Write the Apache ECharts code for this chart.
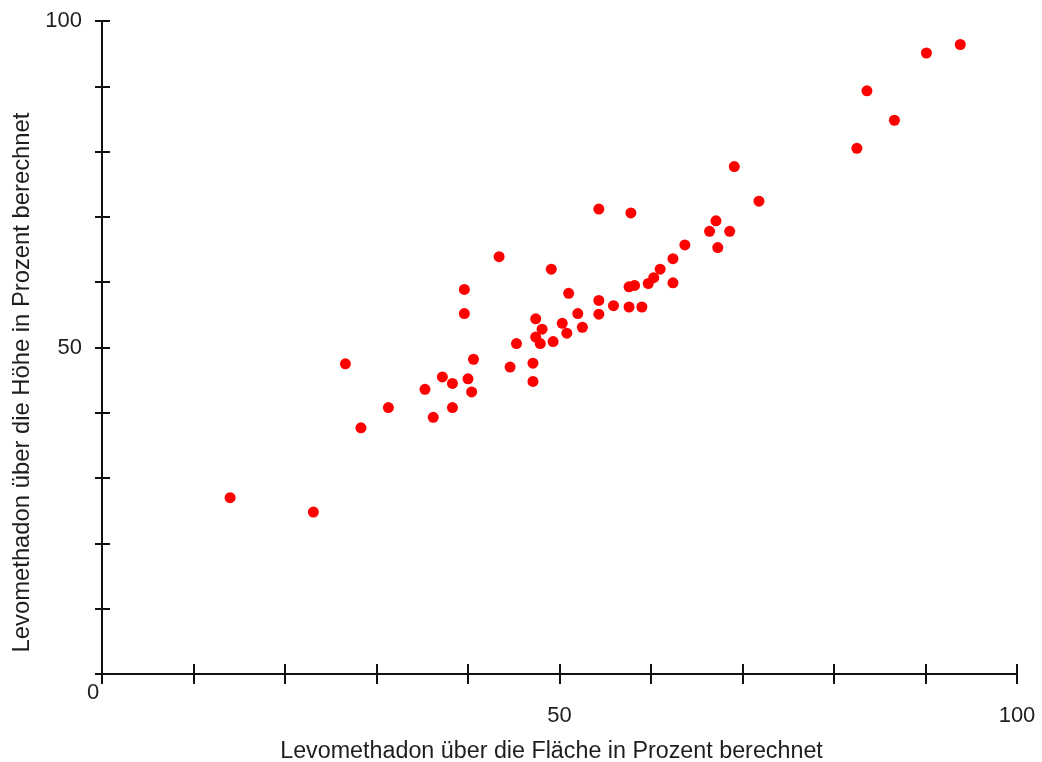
<!DOCTYPE html>
<html><head><meta charset="utf-8">
<script src="https://cdn.jsdelivr.net/npm/echarts/dist/echarts.min.js"></script>
<style>html,body{margin:0;padding:0;background:#fff}#c{width:1042px;height:762px}</style>
</head><body><div id="c"></div>
<script>
// Data
const xValues = [14.0, 23.1, 26.6, 28.3, 31.3, 35.3, 36.2, 37.2, 38.3, 38.3, 39.6, 39.6, 40.0, 40.4, 40.6, 43.4, 44.6, 45.3, 47.1, 47.1, 47.4, 48.1, 47.4, 47.9, 49.1, 49.3, 50.3, 50.8, 51.0, 52.0, 52.5, 54.3, 54.3, 54.3, 55.9, 57.6, 57.8, 57.6, 58.2, 59.0, 59.7, 60.3, 61.0, 62.4, 62.4, 63.7, 66.4, 67.1, 67.3, 68.6, 69.1, 71.8, 82.5, 83.6, 86.6, 90.1, 93.8];
const yValues = [27.0, 24.8, 47.5, 37.7, 40.8, 43.6, 39.3, 45.5, 44.5, 40.8, 58.9, 55.2, 45.2, 43.2, 48.2, 63.9, 47.0, 50.6, 47.6, 44.8, 54.4, 52.8, 51.6, 50.6, 62.0, 50.9, 53.7, 52.2, 58.3, 55.2, 53.1, 71.2, 57.2, 55.1, 56.4, 56.2, 70.6, 59.3, 59.5, 56.2, 59.8, 60.7, 62.0, 63.6, 59.9, 65.7, 67.8, 69.4, 65.3, 67.8, 77.7, 72.4, 80.5, 89.3, 84.8, 95.1, 96.4];
const xTickLabelValues = [50, 100];
const yTickLabelValues = [50, 100];
const originLabel = '0';
const xTitle = 'Levomethadon über die Fläche in Prozent berechnet';
const yTitle = 'Levomethadon über die Höhe in Prozent berechnet';

const points = xValues.map((x, i) => [x, yValues[i]]);
const FONT = "'Liberation Sans', Arial, sans-serif";
const TXT = '#1e1e1e';
const LINE = '#111';

const chart = echarts.init(document.getElementById('c'), null, {renderer: 'canvas'});

function baseAxis(extra) {
  return Object.assign({
    type: 'value', min: 0, max: 100, interval: 10,
    splitLine: {show: false}
  }, extra);
}

chart.setOption({
  backgroundColor: '#fff',
  animation: false,
  grid: {left: 102, right: 25, top: 21, bottom: 88, containLabel: false, outerBoundsMode: 'none'},
  xAxis: [
    baseAxis({
      position: 'bottom',
      axisLine: {show: true, onZero: false, lineStyle: {color: LINE, width: 2}},
      axisTick: {show: true, inside: false, length: 10, lineStyle: {color: LINE, width: 2}},
      axisLabel: {
        show: true, margin: 31, fontSize: 22, color: TXT, fontFamily: FONT,
        formatter: v => xTickLabelValues.indexOf(v) >= 0 ? String(v) : ''
      },
      name: xTitle, nameLocation: 'middle', nameGap: 66,
      nameTextStyle: {fontSize: 23.3, color: TXT, fontFamily: FONT, padding: [0, 16, 0, 0]}
    }),
    baseAxis({
      position: 'bottom',
      axisLine: {show: false, onZero: false},
      axisTick: {show: true, inside: true, length: 10, lineStyle: {color: LINE, width: 2}},
      axisLabel: {show: false}
    })
  ],
  yAxis: [
    baseAxis({
      position: 'left',
      axisLine: {show: true, onZero: false, lineStyle: {color: LINE, width: 2}},
      axisTick: {show: true, inside: false, length: 7, lineStyle: {color: LINE, width: 2}},
      axisLabel: {
        show: true, margin: 20, fontSize: 22, color: TXT, fontFamily: FONT,
        formatter: v => yTickLabelValues.indexOf(v) >= 0 ? String(v) : ''
      },
      name: yTitle, nameLocation: 'middle', nameGap: 64, nameRotate: 90,
      nameTextStyle: {fontSize: 23.8, color: TXT, fontFamily: FONT, padding: [0, 70, 0, 0]}
    }),
    baseAxis({
      position: 'left',
      axisLine: {show: false, onZero: false},
      axisTick: {show: true, inside: true, length: 8, lineStyle: {color: LINE, width: 2}},
      axisLabel: {show: false}
    })
  ],
  series: [{
    type: 'scatter',
    xAxisIndex: 0, yAxisIndex: 0,
    data: points,
    symbol: 'circle',
    symbolSize: 11,
    itemStyle: {color: '#ff0000', opacity: 1}
  }]
});

const origin = chart.convertToPixel({xAxisIndex: 0, yAxisIndex: 0}, [0, 0]);
chart.setOption({
  graphic: [{
    type: 'text',
    x: origin[0] - 9, y: origin[1] + 19,
    style: {text: originLabel, fontSize: 22, fill: TXT, fontFamily: FONT, align: 'center', verticalAlign: 'middle'}
  }]
});
</script>
</body></html>
